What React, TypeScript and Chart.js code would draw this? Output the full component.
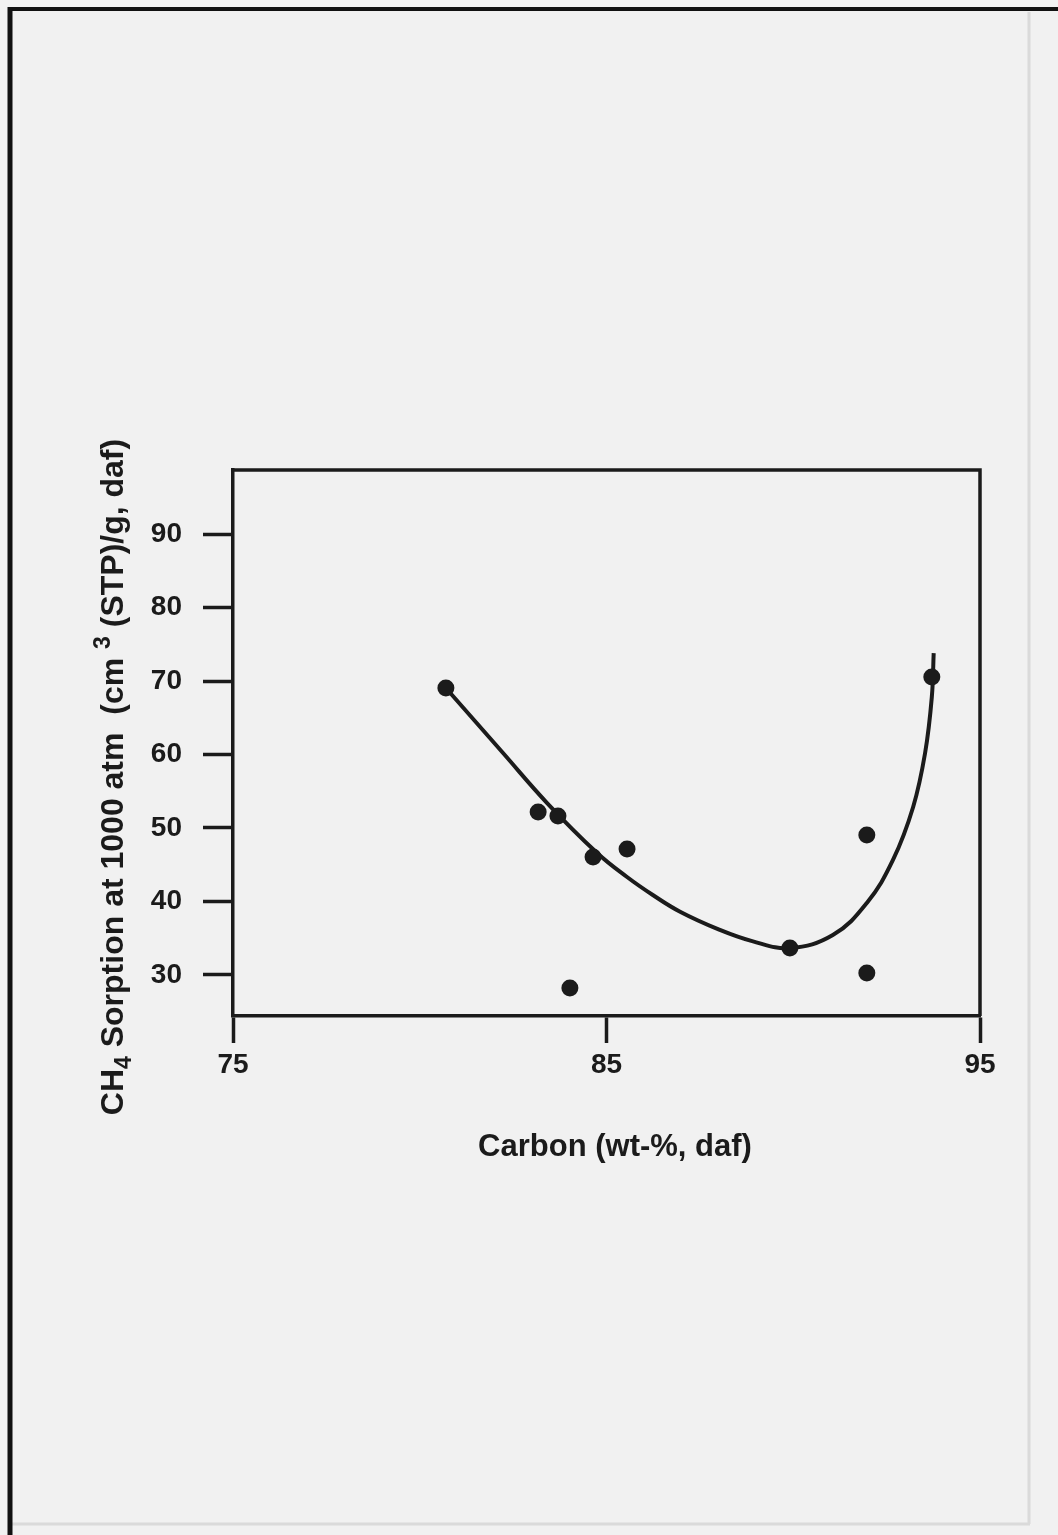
import { useEffect, useRef } from 'react';
import { Chart, registerables } from 'chart.js';

Chart.register(...registerables);

// ---- data ----
const carbonPoints = [80.7, 83.17, 83.7, 84.02, 84.64, 85.55, 89.91, 91.97, 91.97, 93.71];
const sorptionPoints = [69.05, 52.18, 51.63, 28.23, 46.05, 47.14, 33.67, 49.05, 30.27, 70.54];

const curveCarbon = [80.7, 82.23, 83.41, 84.75, 85.55, 86.24, 86.97, 88.0, 88.9, 89.91, 91.06, 91.97, 92.67, 93.21, 93.53, 93.71, 93.76];
const curveSorption = [69.05, 60.2, 53.4, 46.6, 43.33, 40.88, 38.6, 36.2, 34.6, 33.67, 35.44, 39.8, 45.65, 52.86, 60.2, 67.82, 73.8];

const xTicks = [75, 85, 95];
const yTicks = [30, 40, 50, 60, 70, 80, 90];

const xTitle = 'Carbon (wt-%, daf)';
const yTitleParts = ['CH', '4', ' Sorption at 1000 atm  (cm ', '3', ' (STP)/g, daf)'];

const INK = '#1b1b1b';
const BG = '#f1f1f1';
const FONT = '"Liberation Sans", Arial, Helvetica, sans-serif';
const W = 1058;
const H = 1535;

export default function App() {
  const ref = useRef<HTMLCanvasElement>(null);

  useEffect(() => {
    document.body.style.margin = '0';
    document.body.style.background = BG;
    const canvas = ref.current;
    if (!canvas) return;

    const pagePlugin = {
      id: 'page',
      beforeDraw(chart: any) {
        const ctx = chart.ctx;
        ctx.save();
        ctx.fillStyle = BG;
        ctx.fillRect(0, 0, chart.width, chart.height);
        // faint scan edges
        ctx.strokeStyle = '#dadada';
        ctx.lineWidth = 3;
        ctx.beginPath();
        ctx.moveTo(1029, 12);
        ctx.lineTo(1029, 1524);
        ctx.moveTo(12, 1524);
        ctx.lineTo(1030, 1524);
        ctx.stroke();
        // frame
        ctx.strokeStyle = '#111';
        ctx.lineWidth = 4;
        ctx.beginPath();
        ctx.moveTo(8, 9);
        ctx.lineTo(W, 9);
        ctx.stroke();
        ctx.lineWidth = 5;
        ctx.beginPath();
        ctx.moveTo(10, 7);
        ctx.lineTo(10, H);
        ctx.stroke();
        ctx.restore();
      },
      afterDraw(chart: any) {
        const ctx = chart.ctx;
        const a = chart.chartArea;
        ctx.save();
        ctx.strokeStyle = INK;
        ctx.lineWidth = 3.5;
        ctx.beginPath();
        ctx.moveTo(a.left - 1.75, a.top);
        ctx.lineTo(a.right, a.top);
        ctx.lineTo(a.right, a.bottom);
        ctx.stroke();

        ctx.fillStyle = INK;
        // x title
        ctx.font = `bold 31px ${FONT}`;
        ctx.textAlign = 'center';
        ctx.textBaseline = 'alphabetic';
        ctx.fillText(xTitle, 615, 1156);

        // y title (rotated, with sub/superscript)
        const big = `bold 32px ${FONT}`;
        const small = `bold 23px ${FONT}`;
        const fonts = [big, small, big, small, big];
        const shifts = [0, 8, 0, -13, 0];
        let total = 0;
        const widths = yTitleParts.map((t, i) => {
          ctx.font = fonts[i];
          const w = ctx.measureText(t).width;
          total += w;
          return w;
        });
        ctx.translate(123, 777);
        ctx.rotate(-Math.PI / 2);
        ctx.textAlign = 'left';
        let u = -total / 2;
        yTitleParts.forEach((t, i) => {
          ctx.font = fonts[i];
          ctx.fillText(t, u, shifts[i]);
          u += widths[i];
        });
        ctx.restore();
      },
    };

    const tickFont = { family: FONT, size: 28, weight: 'bold' as const };

    const chart = new Chart(canvas, {
      type: 'scatter',
      data: {
        datasets: [
          {
            label: 'samples',
            data: carbonPoints.map((x, i) => ({ x, y: sorptionPoints[i] })),
            backgroundColor: INK,
            borderColor: INK,
            pointRadius: 8.5,
            pointBorderWidth: 0,
            showLine: false,
            order: 0,
          },
          {
            label: 'fit',
            data: curveCarbon.map((x, i) => ({ x, y: curveSorption[i] })),
            borderColor: INK,
            borderWidth: 4,
            pointRadius: 0,
            showLine: true,
            tension: 0.4,
            fill: false,
            order: 1,
          },
        ],
      },
      options: {
        animation: false,
        responsive: false,
        maintainAspectRatio: false,
        devicePixelRatio: 1,
        layout: { padding: { left: 0, top: 470, right: 78, bottom: 1535 - 1016 - 90 } },
        plugins: {
          legend: { display: false },
          tooltip: { enabled: false },
          title: { display: false },
        },
        scales: {
          x: {
            type: 'linear',
            min: 75,
            max: 95,
            afterBuildTicks: (s: any) => {
              s.ticks = xTicks.map((v) => ({ value: v }));
            },
            afterFit: (s: any) => {
              s.height = 90;
            },
            grid: {
              drawOnChartArea: false,
              drawTicks: true,
              tickLength: 27,
              tickWidth: 3.5,
              color: INK,
            },
            border: { display: true, width: 3.5, color: INK },
            ticks: { font: tickFont, color: INK, padding: 5, maxRotation: 0, autoSkip: false },
          },
          y: {
            type: 'linear',
            min: 24.42,
            max: 98.71,
            afterBuildTicks: (s: any) => {
              s.ticks = yTicks.map((v) => ({ value: v }));
            },
            afterFit: (s: any) => {
              s.width = 233;
            },
            grid: {
              drawOnChartArea: false,
              drawTicks: true,
              tickLength: 30,
              tickWidth: 3.5,
              color: INK,
            },
            border: { display: true, width: 3.5, color: INK },
            ticks: { font: tickFont, color: INK, padding: 21, autoSkip: false },
          },
        },
      },
      plugins: [pagePlugin],
    } as any);

    return () => chart.destroy();
  }, []);

  return (
    <div style={{ width: W, height: H, background: BG }}>
      <canvas ref={ref} width={W} height={H} style={{ display: 'block', width: W, height: H }} />
    </div>
  );
}
